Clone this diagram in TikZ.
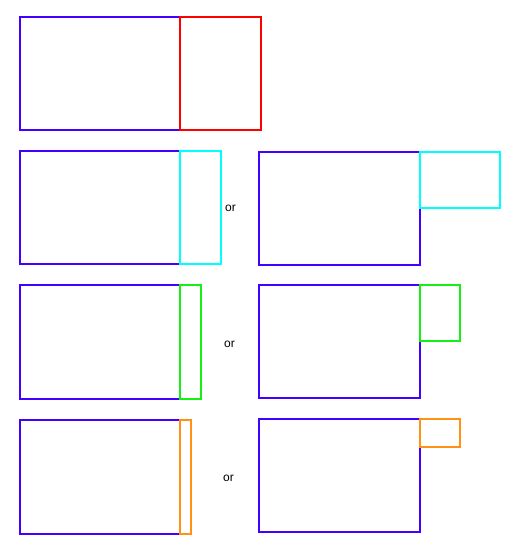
\documentclass[tikz,border=0pt]{standalone}
\usepackage{fontspec}
\setmainfont{Liberation Sans}
\definecolor{mainblue}{RGB}{68,0,255}
\definecolor{cyanc}{RGB}{0,255,255}
\definecolor{greenc}{RGB}{20,240,20}
\definecolor{orangec}{RGB}{255,145,20}
\definecolor{redc}{RGB}{255,0,0}
\begin{document}
\begin{tikzpicture}[x=1pt,y=-1pt,
  box/.style={line width=2pt},
  ortext/.style={font=\fontsize{12}{14}\selectfont, inner sep=0pt}]
\useasboundingbox (0,0) rectangle (518,552);
% Row 1
\draw[box,mainblue] (19.5,16.5) rectangle (180,130);
\draw[box,redc] (180,16.5) rectangle (260.5,130);
% Row 2
\draw[box,mainblue] (19.5,150.5) rectangle (180,264);
\draw[box,cyanc] (180,150.5) rectangle (221,264);
\node[ortext] (or1) at (230.5,208) {or};
\draw[box,mainblue] (259,151.5) rectangle (419.5,264.7);
\draw[box,cyanc] (419.5,151.5) rectangle (500,208.3);
% Row 3
\draw[box,mainblue] (19.5,285.3) rectangle (180,398.7);
\draw[box,greenc] (180,285.3) rectangle (201,398.7);
\node[ortext] (or2) at (229.5,344.5) {or};
\draw[box,mainblue] (259,284.7) rectangle (419.5,397.7);
\draw[box,greenc] (419.5,284.7) rectangle (460,341);
% Row 4
\draw[box,mainblue] (19.5,420.3) rectangle (180,533.7);
\draw[box,orangec] (180,420.3) rectangle (190.7,533.7);
\node[ortext] (or3) at (228.5,478.5) {or};
\draw[box,mainblue] (259,419) rectangle (419.5,532.3);
\draw[box,orangec] (419.5,419) rectangle (460,447.3);
\end{tikzpicture}
\end{document}
